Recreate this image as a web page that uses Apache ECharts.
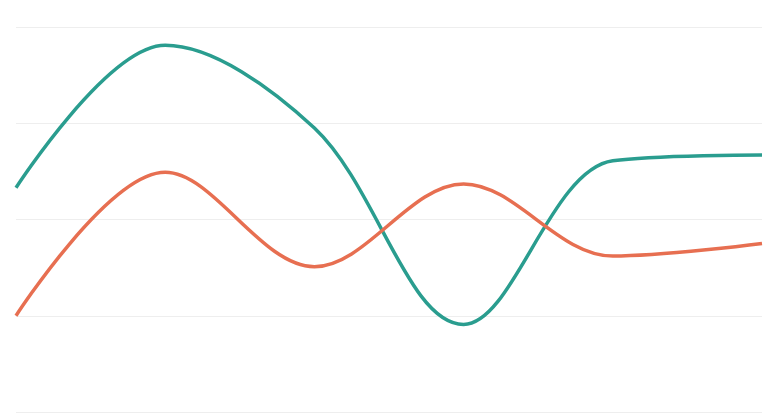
<!DOCTYPE html>
<html>
<head>
<meta charset="utf-8">
<script src="https://cdn.jsdelivr.net/npm/echarts@6/dist/echarts.min.js"></script>
<style>
  html, body { margin: 0; padding: 0; background: #fff; }
  #main { width: 774px; height: 420px; }
</style>
</head>
<body>
<div id="main"></div>
<script>
var categories = ['A', 'B', 'C', 'D', 'E', 'F'];
var seriesTeal = [233, 381, 295, 91, 261, 267];
var seriesOrange = [100, 249, 151, 237, 162, 175];

var chartDom = document.getElementById('main');
var myChart = echarts.init(chartDom);
var option = {
    animation: false,
    grid: {
        left: 16,
        right: 12,
        top: 27,
        bottom: 8,
        containLabel: false
    },
    xAxis: {
        type: 'category',
        data: categories,
        boundaryGap: false,
        show: false
    },
    yAxis: {
        type: 'value',
        min: 0,
        max: 400,
        interval: 100,
        axisLabel: { show: false },
        axisLine: { show: false },
        axisTick: { show: false },
        splitLine: {
            lineStyle: { color: '#eeeeee', width: 1 }
        }
    },
    series: [
        {
            type: 'line',
            data: seriesTeal,
            smooth: 0.35,
            showSymbol: false,
            lineStyle: { color: '#2a9d8f', width: 3.5 }
        },
        {
            type: 'line',
            data: seriesOrange,
            smooth: 0.35,
            showSymbol: false,
            lineStyle: { color: '#e76f51', width: 3.5 }
        }
    ]
};
myChart.setOption(option);
</script>
</body>
</html>
